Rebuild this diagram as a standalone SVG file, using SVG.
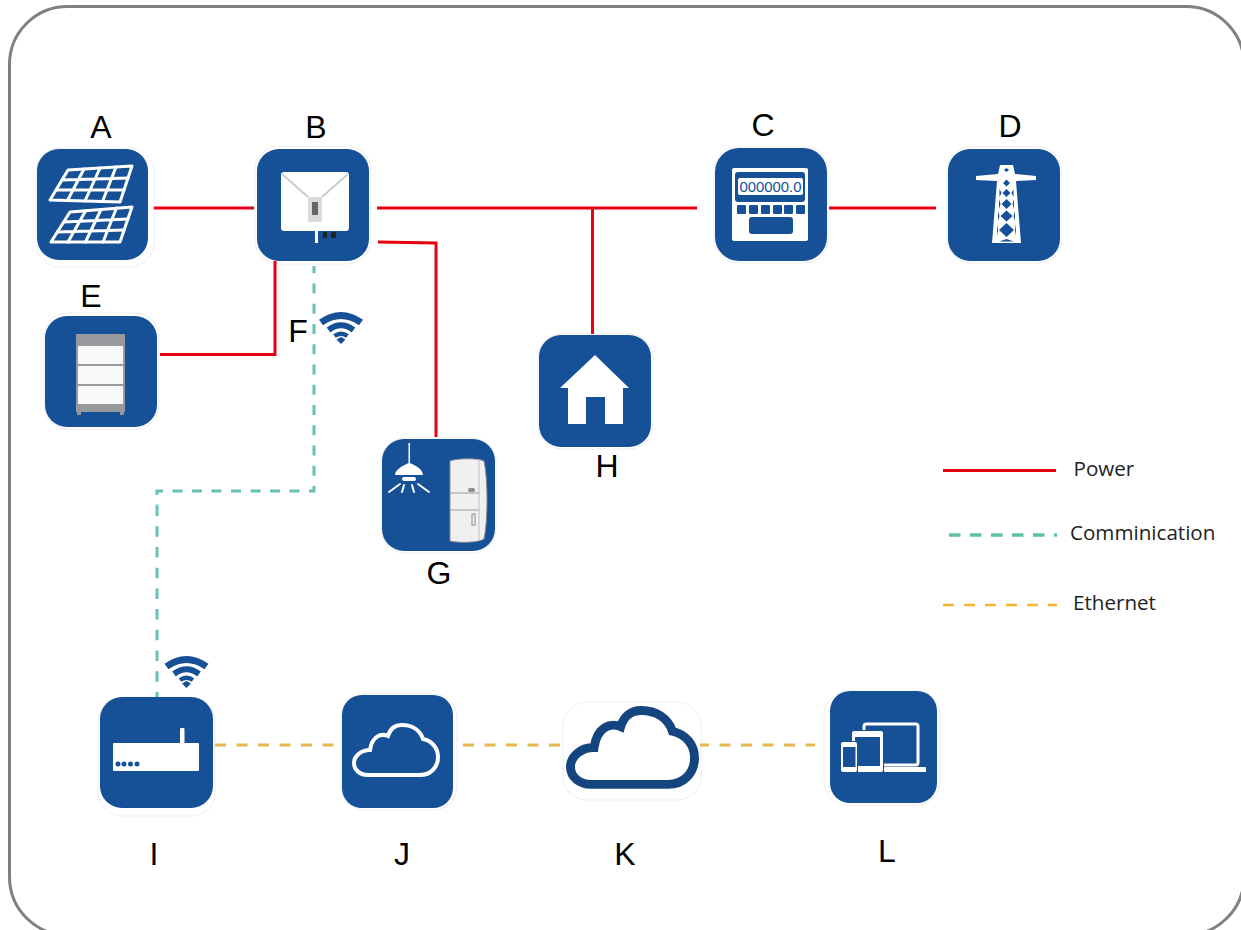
<svg xmlns="http://www.w3.org/2000/svg" width="1241" height="930" viewBox="0 0 1241 930">
<style>
.lbl{font-family:"Liberation Sans",Arial,sans-serif;font-size:32px;fill:#000;text-anchor:middle}
.leg{font-family:"Open Sans","Noto Sans",sans-serif;font-size:20.600px;fill:#222}
.tile{fill:#165097}
.halo{fill:#fff;stroke:#eceef1;stroke-width:1}
.w{fill:#fff}
.b{fill:#165097}
.g{fill:#97999c}
.ws{fill:none;stroke:#fff;stroke-linejoin:round;stroke-linecap:round}
.p{fill:none;stroke:#e60012;stroke-width:3}
.c{fill:none;stroke:#66c2b4;stroke-width:3}
.e{fill:none;stroke:#e5b84f;stroke-width:3;stroke-dasharray:11 10.500}
.wa{fill:none;stroke:#165097}
</style>
<defs>
<g id="wf">
<path class="wa" stroke-width="7" d="M-20-6Q0-20 20-6"/>
<path class="wa" stroke-width="6" d="M-12.500 1.500Q0-8 12.500 1.500"/>
<path class="wa" stroke-width="4.500" d="M-6.500 7.500Q0 3 6.500 7.500"/>
<path class="b" d="M-4.500 11L0 8.500L4.500 11L0 15.500Z"/>
</g>
<path id="cl" d="M368 775H420C431 775 438 767 438 757C438 748 432 741 423 739C420 730 412 725 402 725C395 725 390 729 388 736C381 733 372 736 370 750C360 750 354 757 354 763C354 770 360 775 368 775Z"/>
</defs>
<rect id="frame" x="9.500" y="6.500" width="1234.500" height="928.500" rx="58" fill="#fff" stroke="#808080" stroke-width="3"/>
<g id="node-a">
<rect class="halo" x="36" y="148" width="118" height="119" rx="24"/><rect class="tile" x="37" y="149" width="111" height="111" rx="22"/>
<g class="ws" stroke-width="3">
<path d="M68 170L132 166L120 202L50 200Z"/>
<path d="M62 180L128 178M56 190L124 190M84 169L67.500 200.500M100 168L85 201M116 167L102.500 201.500"/>
<path d="M70 212L132 207L120 242L51 242Z"/>
<path d="M63.700 222L128 219M57.300 232L124 230M85.500 211L68 242M101 209.500L85.500 242M116.500 208L103 242"/>
</g>
<text class="lbl" x="101" y="138">A</text>
</g>
<g id="node-b">
<rect class="halo" x="255" y="146" width="116" height="118" rx="24"/><rect class="tile" x="257" y="149" width="112" height="112" rx="22"/>
<rect class="w" x="281" y="172" width="68" height="59" rx="3"/>
<path d="M282 174L308 197M348 174L322 197" stroke="#c9ccd0" stroke-width="2" fill="none"/>
<rect x="308" y="197" width="14" height="25" rx="1" fill="#d8dadc"/><rect x="312" y="202" width="6" height="13" fill="#666"/>
<rect class="w" x="315" y="231" width="3" height="12"/>
<rect x="323" y="232" width="4" height="6" fill="#222"/><rect x="331" y="232" width="5" height="6" fill="#222"/>
<text class="lbl" x="316" y="138">B</text>
</g>
<g id="node-c">
<rect class="halo" x="714" y="147" width="114" height="116" rx="24"/><rect class="tile" x="715" y="148" width="112" height="113" rx="24"/>
<rect class="w" x="732" y="168" width="76" height="73" rx="2"/>
<rect class="b" x="735" y="172" width="70" height="30" rx="3"/>
<rect class="w" x="738" y="178" width="65" height="17" rx="2"/>
<text x="770.500" y="192" font-family="Liberation Sans,sans-serif" font-size="14" fill="#165097" text-anchor="middle" textLength="62" lengthAdjust="spacingAndGlyphs">000000.0</text>
<rect class="b" x="737" y="205" width="9" height="9" rx="1"/><rect class="b" x="749" y="205" width="9" height="9" rx="1"/><rect class="b" x="761" y="205" width="9" height="9" rx="1"/><rect class="b" x="773" y="205" width="9" height="9" rx="1"/><rect class="b" x="784" y="205" width="9" height="9" rx="1"/><rect class="b" x="796" y="205" width="9" height="9" rx="1"/>
<rect class="b" x="749" y="217" width="44" height="17" rx="3"/>
<text class="lbl" x="763" y="136">C</text>
</g>
<g id="node-d">
<rect class="halo" x="947" y="147" width="115" height="116" rx="24"/><rect class="tile" x="948" y="149" width="112" height="112" rx="22"/>
<path class="w" d="M1000 165H1013L1015 174L1036 176V180L1016 181L1021 243H992L997 181L976 180V176L998 174Z"/>
<path class="b" d="M1006.500 168L1009 170L1006.500 172L1004 170ZM1006.500 179.500L1010 183L1006.500 186.500L1003 183ZM1006.500 189L1010.500 193L1006.500 197L1002.500 193ZM1006.500 199L1011.500 204L1006.500 209L1001.500 204ZM1006.500 210.500L1012.500 216L1006.500 221.500L1000.500 216ZM1006.500 223L1014 230L1006.500 237L999 230ZM1006.500 239L999 241.500H1014Z"/>
<path class="b" d="M999.500 189V197L1001.500 193ZM1013.500 189V197L1011.500 193ZM999 199V209L1000.500 204ZM1014 199V209L1012.500 204ZM998 211V221L999.500 216ZM1015 211V221L1013.500 216ZM997 224V236L998 230ZM1016 224V236L1015 230Z"/>
<text class="lbl" x="1010" y="137">D</text>
</g>
<g id="node-e">
<rect class="halo" x="44" y="313" width="115" height="116" rx="24"/><rect class="tile" x="45" y="316" width="112" height="111" rx="22"/>
<rect class="g" x="76" y="334" width="49" height="78"/>
<rect class="g" x="77" y="412" width="4" height="3"/><rect class="g" x="120" y="412" width="4" height="3"/>
<rect x="78" y="346" width="45" height="18" fill="#f8f8f8"/><rect x="78" y="366" width="45" height="18" fill="#f8f8f8"/><rect x="78" y="386" width="45" height="18" fill="#f8f8f8"/>
<text class="lbl" x="91" y="307">E</text>
</g>
<g id="node-f">
<use href="#wf" x="341" y="328.500"/>
<text class="lbl" x="298" y="342">F</text>
</g>
<g id="node-g">
<rect class="halo" x="381" y="438" width="115" height="115" rx="24"/><rect class="tile" x="382" y="439" width="113" height="112" rx="22"/>
<path class="w" d="M408.500 443H410V463C417 466 423 470 423 475H395C395 470 402 466 408.500 463Z"/>
<rect class="w" x="402" y="477" width="14" height="4" rx="2"/>
<path class="ws" stroke-width="2" d="M400 484L389 492M404 485L402 492M412 485L414 492M418 484L429 492"/>
<path d="M450 461C458 458 478 458 484 461C488 480 488 520 484 539C478 543 458 543 450 541Z" fill="#f0f0f0" stroke="#8a8c8f" stroke-width="1"/>
<path d="M479 459V541" stroke="#bdbfc1" stroke-width="1" fill="none"/>
<path d="M450 493H479M450 510H479" stroke="#9a9c9e" stroke-width="1" fill="none"/>
<rect x="468" y="488" width="7" height="4" rx="2" fill="#8a8c8f"/>
<rect x="472" y="514" width="3" height="11" fill="none" stroke="#8a8c8f" stroke-width="1"/>
<text class="lbl" x="439" y="584">G</text>
</g>
<g id="node-h">
<rect class="halo" x="538" y="334" width="115" height="115" rx="24"/><rect class="tile" x="539" y="335" width="112" height="112" rx="22"/>
<path class="w" fill-rule="evenodd" d="M595 355L629 388H623V424H605V397H586V424H568V388H560Z"/>
<text class="lbl" x="607" y="477">H</text>
</g>
<g id="node-i">
<rect class="halo" x="98" y="697" width="117" height="119" rx="24"/><rect class="tile" x="100" y="697" width="113" height="111" rx="22"/>
<rect class="w" x="113" y="743" width="86" height="28" rx="1"/><rect class="w" x="180" y="728" width="4.500" height="16" rx="1"/>
<circle class="b" cx="118" cy="764" r="2.500"/><circle class="b" cx="124" cy="764" r="2.500"/><circle class="b" cx="130.500" cy="764" r="2.500"/><circle class="b" cx="137" cy="764" r="2.500"/>
<use href="#wf" x="186.500" y="672.500"/>
<text class="lbl" x="154" y="865">I</text>
</g>
<g id="node-j">
<rect class="halo" x="341" y="694" width="116" height="116" rx="24"/><rect class="tile" x="342" y="695" width="111" height="113" rx="20"/>
<use href="#cl" fill="none" stroke="#fff" stroke-width="4"/>
<text class="lbl" x="402" y="865">J</text>
</g>
<g id="node-k">
<rect class="halo" x="563" y="702" width="138" height="98" rx="24"/>
<use href="#cl" transform="translate(47.600 -360.300) scale(1.477)" fill="none" stroke="#14457f" stroke-width="6"/>
<text class="lbl" x="625" y="865">K</text>
</g>
<g id="node-l">
<rect class="halo" x="824" y="691" width="116" height="114" rx="24"/><rect class="tile" x="830" y="691" width="107" height="112" rx="20"/>
<rect x="864" y="724" width="54" height="41" rx="2.500" fill="none" stroke="#fff" stroke-width="3"/>
<rect class="w" x="884" y="767" width="42" height="5" rx="1"/>
<rect x="851" y="730" width="33" height="43" fill="#165097"/>
<rect class="w" x="852" y="731" width="31" height="41" rx="2"/><rect class="b" x="855" y="737" width="25" height="29"/>
<rect x="840" y="741" width="18" height="32" fill="#165097"/>
<rect class="w" x="841" y="742" width="16" height="30" rx="2"/><rect class="b" x="843" y="747" width="12.500" height="20"/>
<text class="lbl" x="887" y="862">L</text>
</g>
<g id="connectors">
<path class="p" d="M154 208H254"/>
<path class="p" d="M377 208H697M829 208H936M592.500 208V334"/>
<path class="p" d="M378 242L436 243V437"/>
<path class="p" d="M275 261V354.500H160"/>
<path class="c" stroke-dasharray="10 10.250" stroke-dashoffset="2.750" d="M314 266V486"/>
<path class="c" stroke-dasharray="10 9.500" d="M314 486V491H157V505.500"/>
<path class="c" stroke-dasharray="10.500 10.220" d="M157 505.500V697"/>
<path class="e" d="M215 745H340M463 745H562"/>
<path class="e" stroke-dashoffset="2" d="M700 745H815"/>
</g>
<g id="legend">
<path d="M943 470.500H1056" fill="none" stroke="#e60012" stroke-width="3"/>
<path d="M949 535H1057" fill="none" stroke="#5fc0a8" stroke-width="3.500" stroke-dasharray="11.500 9.500"/>
<path d="M943 605H1057" fill="none" stroke="#f5b335" stroke-width="2.500" stroke-dasharray="11 10"/>
<text class="leg" x="1073.500" y="476">Power</text>
<text class="leg" x="1070" y="540">Comminication</text>
<text class="leg" x="1073" y="610">Ethernet</text>
</g>
</svg>
